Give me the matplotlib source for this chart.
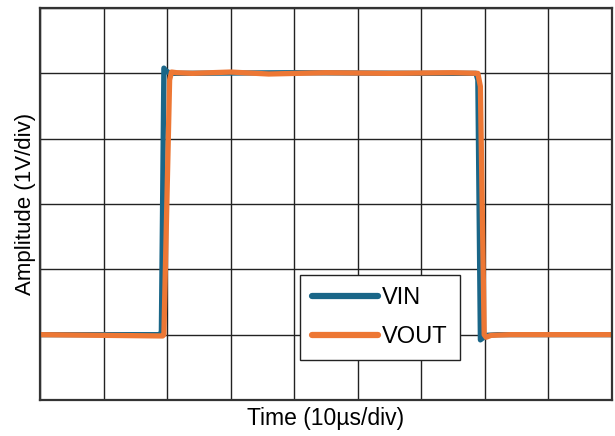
import matplotlib.pyplot as plt

plt.rcParams["font.family"] = ["Liberation Sans", "DejaVu Sans"]

# time in us, amplitude in V (1 V/div)
t_in = [0, 18.9, 19.1, 19.5, 19.8, 20.5, 22, 40, 60, 68.6, 68.9, 69.3, 69.7, 70.3, 72, 90]
v_in = [1.0, 1.0, 1.05, 5.08, 5.04, 5.0, 5.0, 5.01, 5.0, 5.0, 4.9, 0.92, 0.95, 0.99, 1.0, 1.0]

t_out = [0, 19.3, 19.5, 20.4, 20.7, 21.5, 24, 30, 36, 45, 55, 65, 68.9, 69.3, 69.9, 70.2, 71, 74, 90]
v_out = [1.0, 0.98, 1.0, 4.9, 5.02, 5.01, 5.0, 5.02, 4.99, 5.01, 5.0, 5.01, 5.0, 4.8, 1.0, 0.96, 0.99, 1.0, 1.0]

fig = plt.figure(figsize=(6.15, 4.36), dpi=100)
ax = fig.add_axes([0.065, 0.0826, 0.93, 0.899])

ax.plot(t_in, v_in, color="#1a6688", lw=3.8, label="VIN", solid_joinstyle="round")
ax.plot(t_out, v_out, color="#ed7734", lw=3.8, label="VOUT", solid_joinstyle="round")

ax.set_xlim(0, 90)
ax.set_ylim(0, 6)
ax.set_xticks(range(0, 91, 10))
ax.set_yticks(range(0, 7))
ax.tick_params(length=0, labelbottom=False, labelleft=False)
ax.grid(True, color="#222222", lw=1.0)
for s in ax.spines.values():
    s.set_color("#333333")
    s.set_linewidth(1.6)

ax.set_xlabel("Time (10µs/div)", fontsize=16.5, labelpad=5)
ax.set_ylabel("Amplitude (1V/div)", fontsize=16, labelpad=3)

leg = ax.legend(loc="lower left", bbox_to_anchor=(0.4545, 0.102), borderaxespad=0,
                fontsize=17, frameon=True, fancybox=False, framealpha=1,
                edgecolor="#222222", handlelength=2.8, handletextpad=0.18,
                labelspacing=0.72, borderpad=0.5)
for h in leg.get_lines():
    h.set_linewidth(4.5)
    h.set_solid_capstyle("round")

fig.savefig("out.png", dpi=100)
